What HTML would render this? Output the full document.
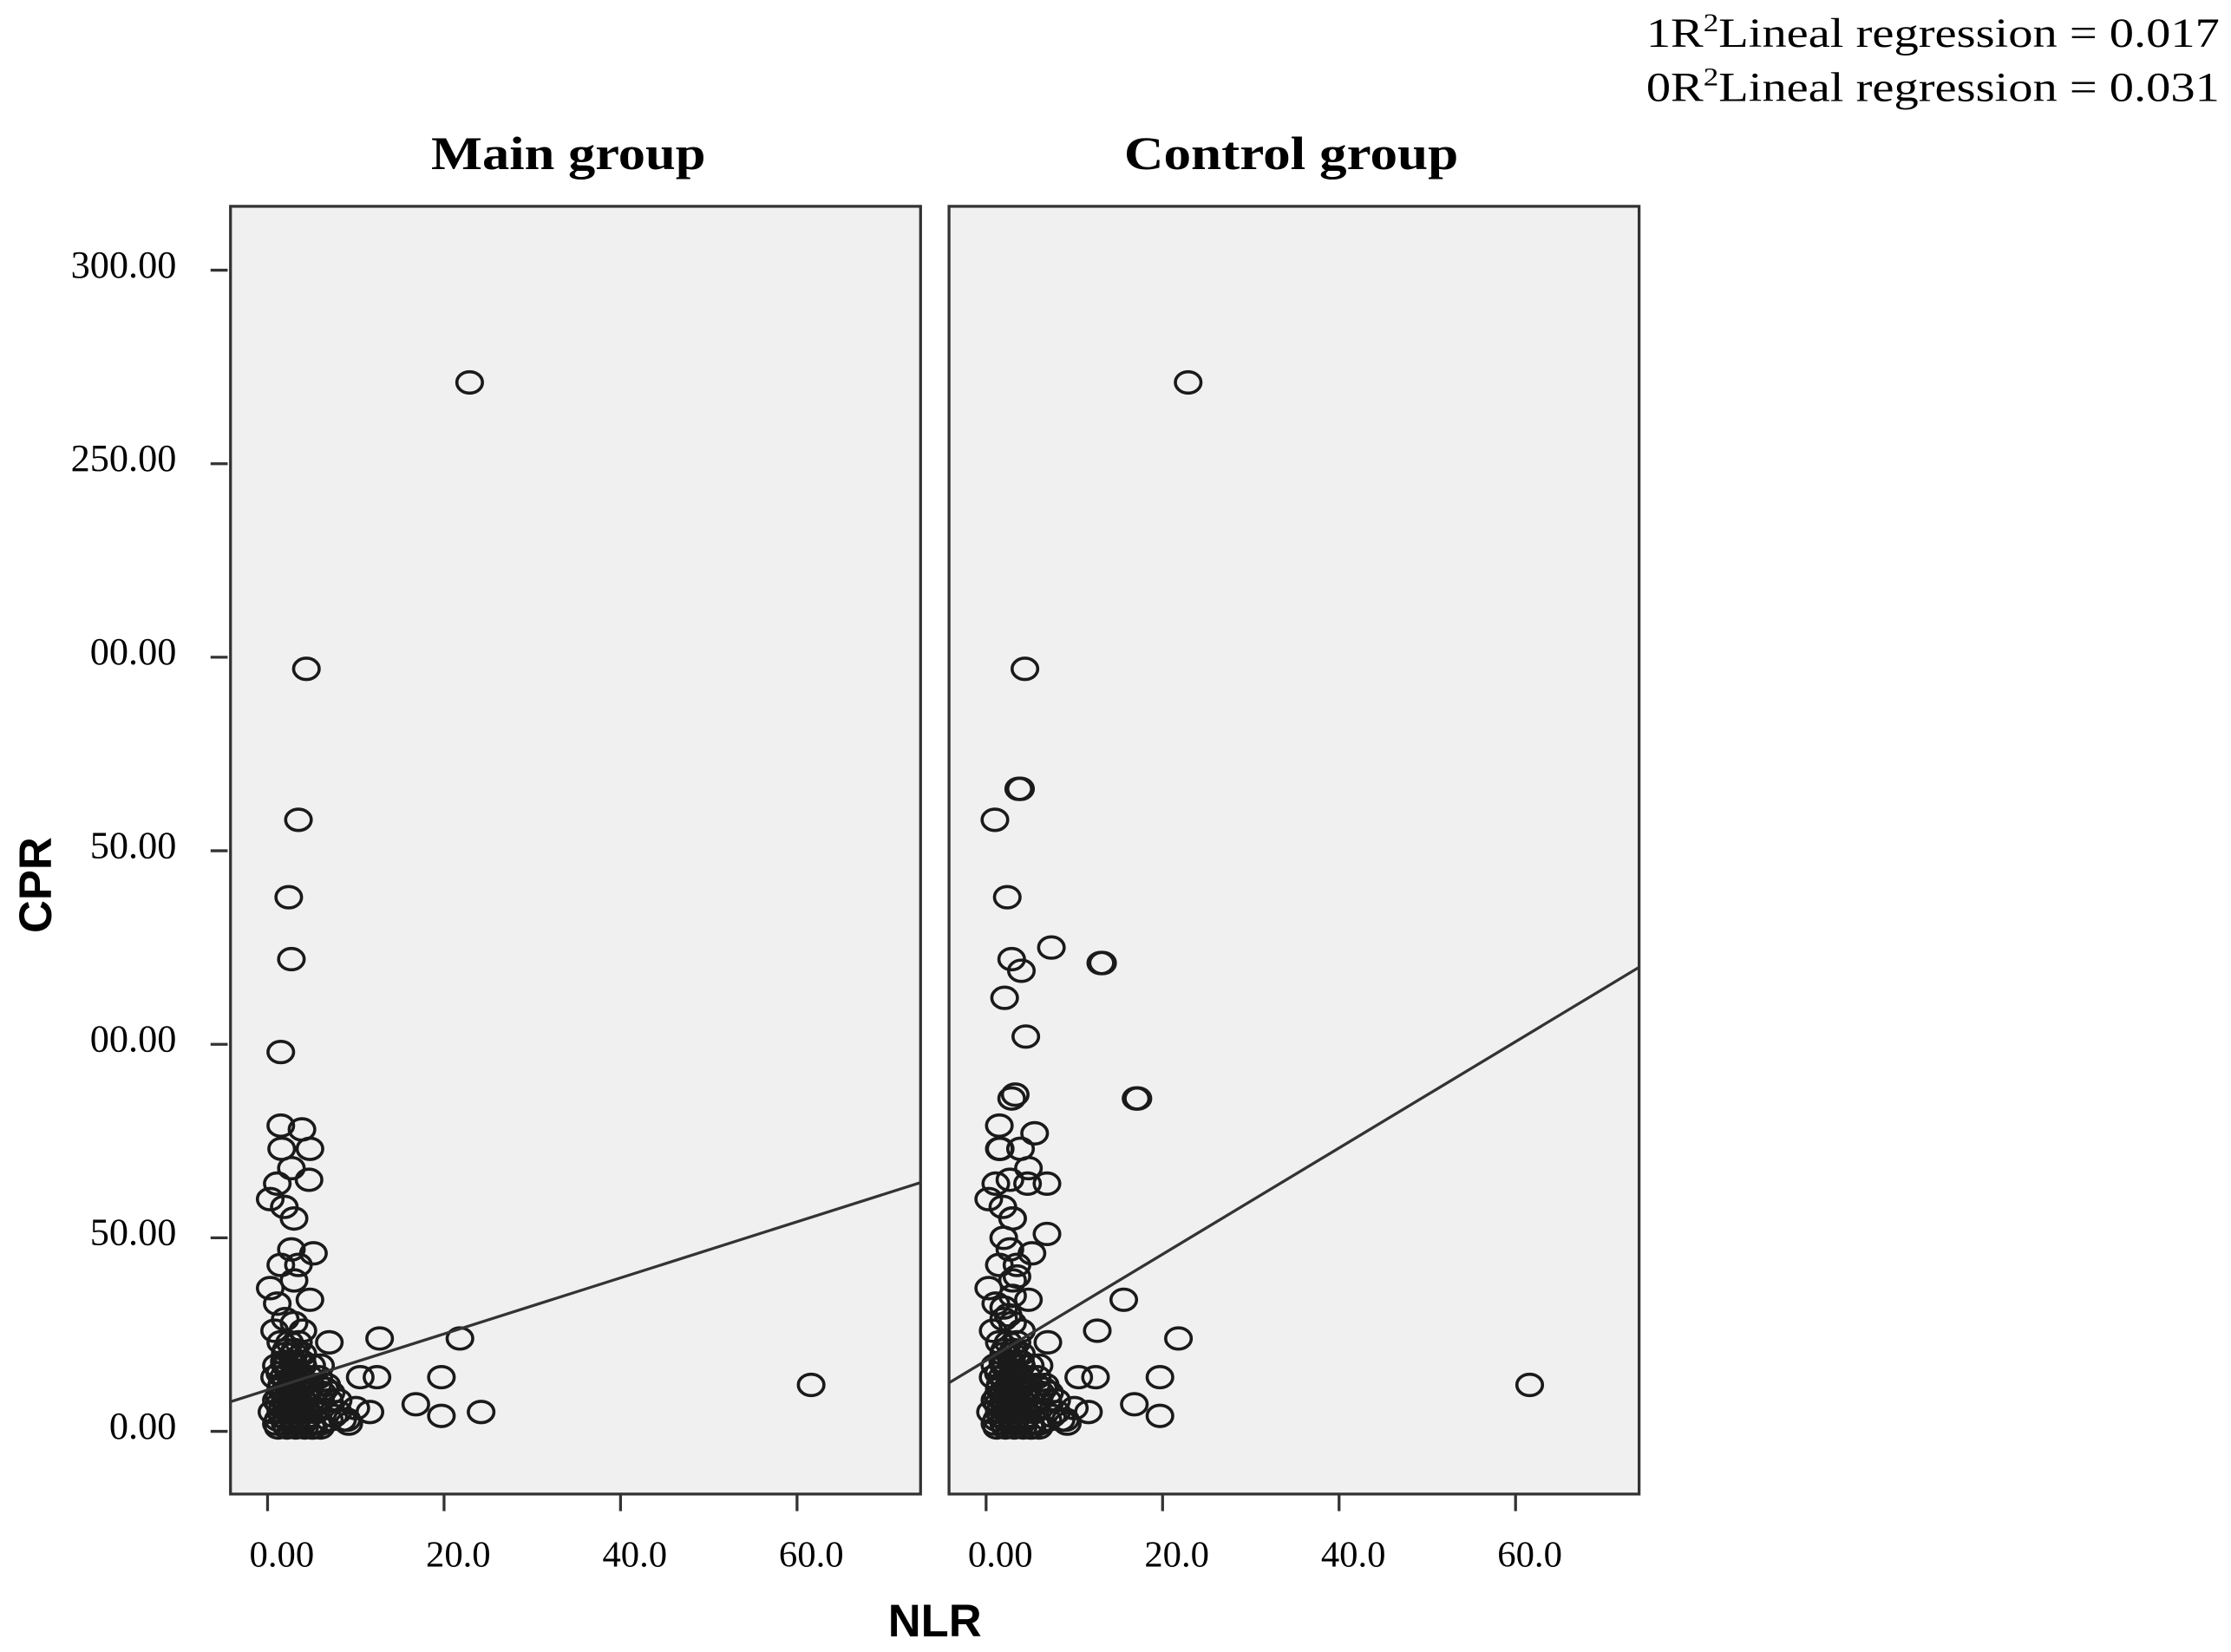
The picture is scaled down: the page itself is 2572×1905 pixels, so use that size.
<!DOCTYPE html>
<html><head><meta charset="utf-8"><style>
html,body{margin:0;padding:0;background:#fff;}
svg{display:block;}
</style></head><body>
<svg id="chart" width="2572" height="1905" viewBox="0 0 1568 1161" preserveAspectRatio="none" xmlns="http://www.w3.org/2000/svg" font-family="Liberation Serif, serif">
<rect width="1568" height="1161" fill="#fff"/>
<text x="1157" y="33" font-size="29" textLength="403" lengthAdjust="spacingAndGlyphs">1R<tspan font-size="18" dy="-11">2</tspan><tspan dy="11">Lineal regression = 0.017</tspan></text>
<text x="1157" y="71" font-size="29" textLength="403" lengthAdjust="spacingAndGlyphs">0R<tspan font-size="18" dy="-11">2</tspan><tspan dy="11">Lineal regression = 0.031</tspan></text>
<text x="303" y="119" font-size="33" font-weight="bold" textLength="193" lengthAdjust="spacingAndGlyphs">Main group</text>
<text x="790" y="119" font-size="33" font-weight="bold" textLength="235" lengthAdjust="spacingAndGlyphs">Control group</text>
<text transform="translate(36,622) rotate(-90)" text-anchor="middle" font-size="32" font-weight="bold" font-family="Liberation Sans, sans-serif">CPR</text>
<text x="657" y="1150" text-anchor="middle" font-size="32" font-weight="bold" font-family="Liberation Sans, sans-serif">NLR</text>
<g id="plots"></g>
</svg>
<script>
const yTickValues=[300,250,200,150,100,50,0];
const yTickLabels=["300.00","250.00","00.00","50.00","00.00","50.00","0.00"];
const xTickValues=[0,20,40,60];
const xTickLabels=["0.00","20.0","40.0","60.0"];
const clusterX=[1,2,3,4,5,6,1.5,2.5,3.5,4.5,5.5,0.5,1,2,3,4,5,6,7,8,1.5,2.5,3.5,4.5,6.5,0.8,1.8,2.8,3.8,4.8,5.8,7.5,9,10,1,2,3,4,5,6,2,3,4,1.5,2.5,3.5,0.8,2,3,4,5,6,7,8,
1.2,2.2,3.2,4.2,1.7,2.7,3.7,1.3,2.3,3.3,4.3,1.6,2.6,3.6,1.4,2.4,3.4,1.9,2.9,3.9,2.1,3.1,1.2,2.2,3.2,4.2,5.2,1.7,2.7,3.7,4.7,1.3,2.3,3.3,1.8,2.8,6.2,7.2,5.7,6.7,8.5];
const clusterY=[2,2,2,2,2,2,5,5,5,5,5,5,8,8,8,8,8,8,8,8,11,11,11,11,11,14,14,14,14,14,14,4,3,6,17,17,17,17,17,17,20,20,20,23,23,23,26,29,28,26,1,1,3,5,
3,3,3,3,6,6,6,9,9,9,9,12,12,12,15,15,15,18,18,18,21,21,1,1,1,1,1,4,4,4,4,7,7,7,10,10,10,10,12,12,3];
const mainX=[22.9,4.4,3.5,2.4,2.7,1.5,1.5,3.9,1.6,4.8,2.7,4.7,1.1,0.3,1.9,3,2.7,5.2,1.5,3.5,0.3,3,1.1,4.8,7,12.7,21.8,61.6,10.5,12.4,19.7,16.8,19.7,24.2,11.6,9.2].concat(clusterX);
const mainY=[271,197,158,138,122,98,79,78,73,73,68,65,64,60,58,55,47,46,43,43,37,39,33,34,23,24,24,12,14,14,14,7,4,5,5,2].concat(clusterY);
const ctrlX=[22.9,4.4,3.7,3.9,1,2.4,2.9,7.4,4,13,13.2,2.1,4.5,2.9,3.3,17,17.2,5.5,6.9,6.9,15.6,12.6,1.5,1.5,3.9,1.6,4.8,2.7,4.7,1.1,0.3,1.9,3,2.7,5.2,1.5,3.5,0.3,3,1.1,4.8,7,21.8,61.6,10.5,12.4,19.7,16.8,19.7,11.6,9.2,
2,3,2.5,3.5,2,3].concat(clusterX);
const ctrlY=[271,197,166,166,158,138,122,125,119,121,121,112,102,86,87,86,86,77,64,51,34,26,79,73,73,73,68,65,64,64,60,58,55,47,46,43,43,37,39,33,34,23,24,12,14,14,14,7,4,5,2,
32,35,30,40,50,55].concat(clusterY);
const regIntercept=[10.7,18.3];
const regSlope=[0.724,1.373];
const NS="http://www.w3.org/2000/svg";
const g=document.getElementById('plots');
const xMin=-4.2,xMax=74,yMin=-16.2,yMax=316.5,top_=145,bot=1050,w=485;
function mk(t,a){const e=document.createElementNS(NS,t);for(const k in a)e.setAttribute(k,a[k]);return e;}
function drawPanel(left,xs,ys,b,m,name){
  const sx=v=>left+(v-xMin)/(xMax-xMin)*w;
  const sy=v=>bot-(v-yMin)/(yMax-yMin)*(bot-top_);
  const bg=mk('rect',{x:left,y:top_,width:w,height:bot-top_,fill:'#f0f0f0',stroke:'#333','stroke-width':2});
  
  
  g.appendChild(bg);
  for(let i=0;i<xs.length;i++){
    const c=mk('ellipse',{cx:sx(xs[i]),cy:sy(ys[i]),rx:9,ry:7.5,fill:'none',stroke:'#1a1a1a','stroke-width':2.2});
    
    
    g.appendChild(c);
  }
  const l=mk('line',{x1:sx(xMin),y1:sy(b+m*xMin),x2:sx(xMax),y2:sy(b+m*xMax),stroke:'#333','stroke-width':2});
  
  
  g.appendChild(l);
  xTickValues.forEach((v,i)=>{
    const t=mk('line',{x1:sx(v),x2:sx(v),y1:bot,y2:bot+12,stroke:'#333','stroke-width':2});
    
    
    g.appendChild(t);
    const tx=mk('text',{x:sx(v)+10,y:bot+51,'text-anchor':'middle','font-size':26});
    tx.textContent=xTickLabels[i];
    
    
    g.appendChild(tx);
  });
  if(name==='main'){
    yTickValues.forEach((v,i)=>{
      const t=mk('line',{x1:148,x2:160,y1:sy(v),y2:sy(v),stroke:'#333','stroke-width':2});
      
      
      g.appendChild(t);
      const tx=mk('text',{x:124,y:sy(v)+5,'text-anchor':'end','font-size':27});
      tx.textContent=yTickLabels[i];
      
      
      g.appendChild(tx);
    });
  }
}
drawPanel(162,mainX,mainY,regIntercept[0],regSlope[0],'main');
drawPanel(667,ctrlX,ctrlY,regIntercept[1],regSlope[1],'control');
</script>
</body></html>
